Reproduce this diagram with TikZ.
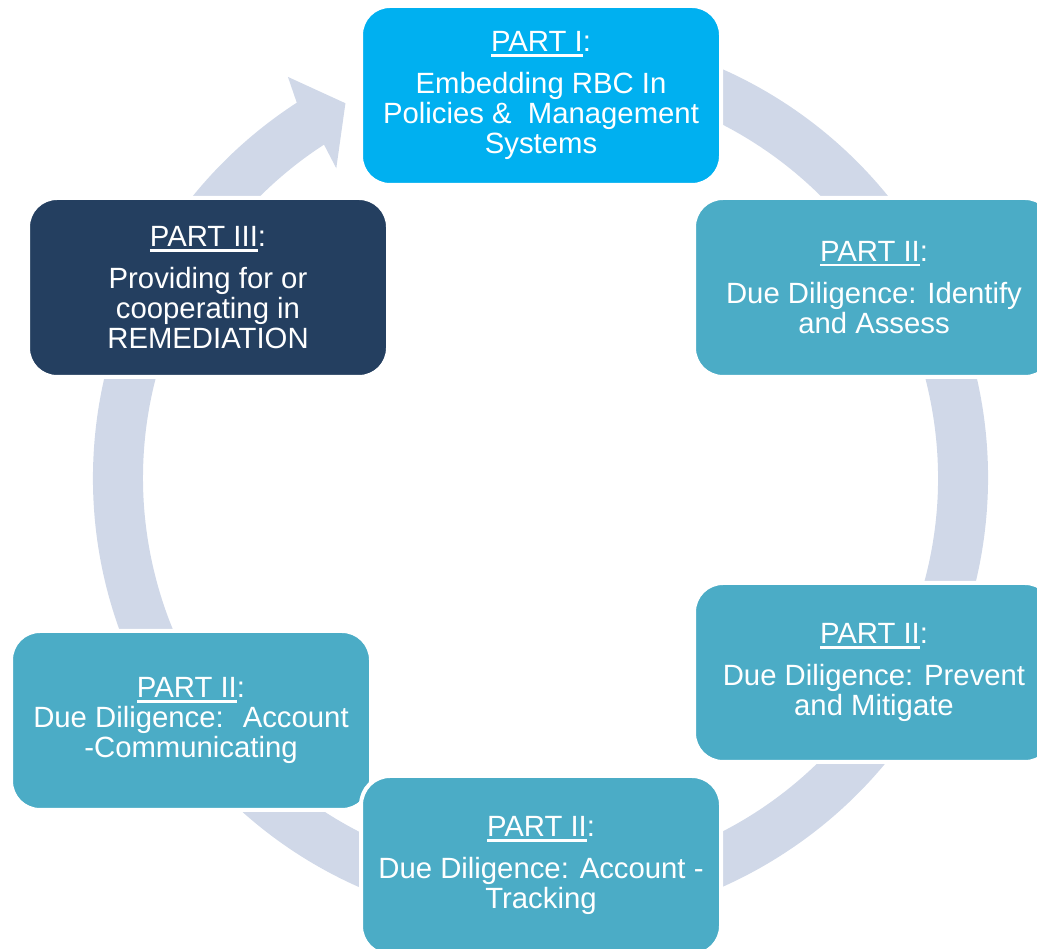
\documentclass[tikz,border=0pt]{standalone}
\usepackage{fontspec}
\setmainfont{Liberation Sans}
\definecolor{ringc}{HTML}{D0D8E8}
\definecolor{cyanbox}{HTML}{00B0F0}
\definecolor{tealbox}{HTML}{4BACC6}
\definecolor{navybox}{HTML}{243F60}
\newcommand\myul[1]{\setbox0\hbox{#1}\rlap{\rule[-4.8pt]{\wd0}{2.2pt}}\box0}
\tikzset{
  stagebox/.style={rectangle, rounded corners=29pt, minimum width=360pt, minimum height=179pt,
    draw=white, line width=4pt, text=white, align=center, inner sep=0pt,
    font=\fontsize{29.3}{29.8}\selectfont},
  ringfill/.style={fill=ringc}
}
\begin{document}
\begin{tikzpicture}[x=1pt,y=1pt]
\useasboundingbox (0,0) rectangle (1037,949);
\clip (0,0) rectangle (1037,949);
% circular arrow
\fill[ringfill, shift={(540.5,471)}]
  (123:447.5pt) arc[start angle=123, end angle=460, radius=447.5pt]
  -- (460:397.5pt) arc[start angle=460, end angle=123, radius=397.5pt]
  -- (123.4:371pt) -- (117.5:422.5pt) -- (122.2:474pt) -- cycle;
% boxes
\node[stagebox, fill=cyanbox] (p1) at (541,853.5)
  {\myul{PART I}:\\[12pt]Embedding RBC In\\Policies \&~ Management\\Systems};
\node[stagebox, fill=tealbox] (identify) at (874,661.5)
  {\myul{PART II}:\\[12pt]Due Diligence: Identify\\and Assess};
\node[stagebox, fill=tealbox] (prevent) at (874,276.5)
  {\myul{PART II}:\\[12pt]Due Diligence: Prevent\\and Mitigate};
\node[stagebox, fill=tealbox] (communicating) at (191,228.5)
  {\myul{PART II}:\\Due Diligence:~ Account\\-Communicating};
\node[stagebox, fill=tealbox] (tracking) at (541,83.5)
  {\myul{PART II}:\\[12pt]Due Diligence: Account -\\Tracking};
\node[stagebox, fill=navybox] (p3) at (208,661.5)
  {\myul{PART III}:\\[12pt]Providing for or\\cooperating in\\REMEDIATION};
\end{tikzpicture}
\end{document}
